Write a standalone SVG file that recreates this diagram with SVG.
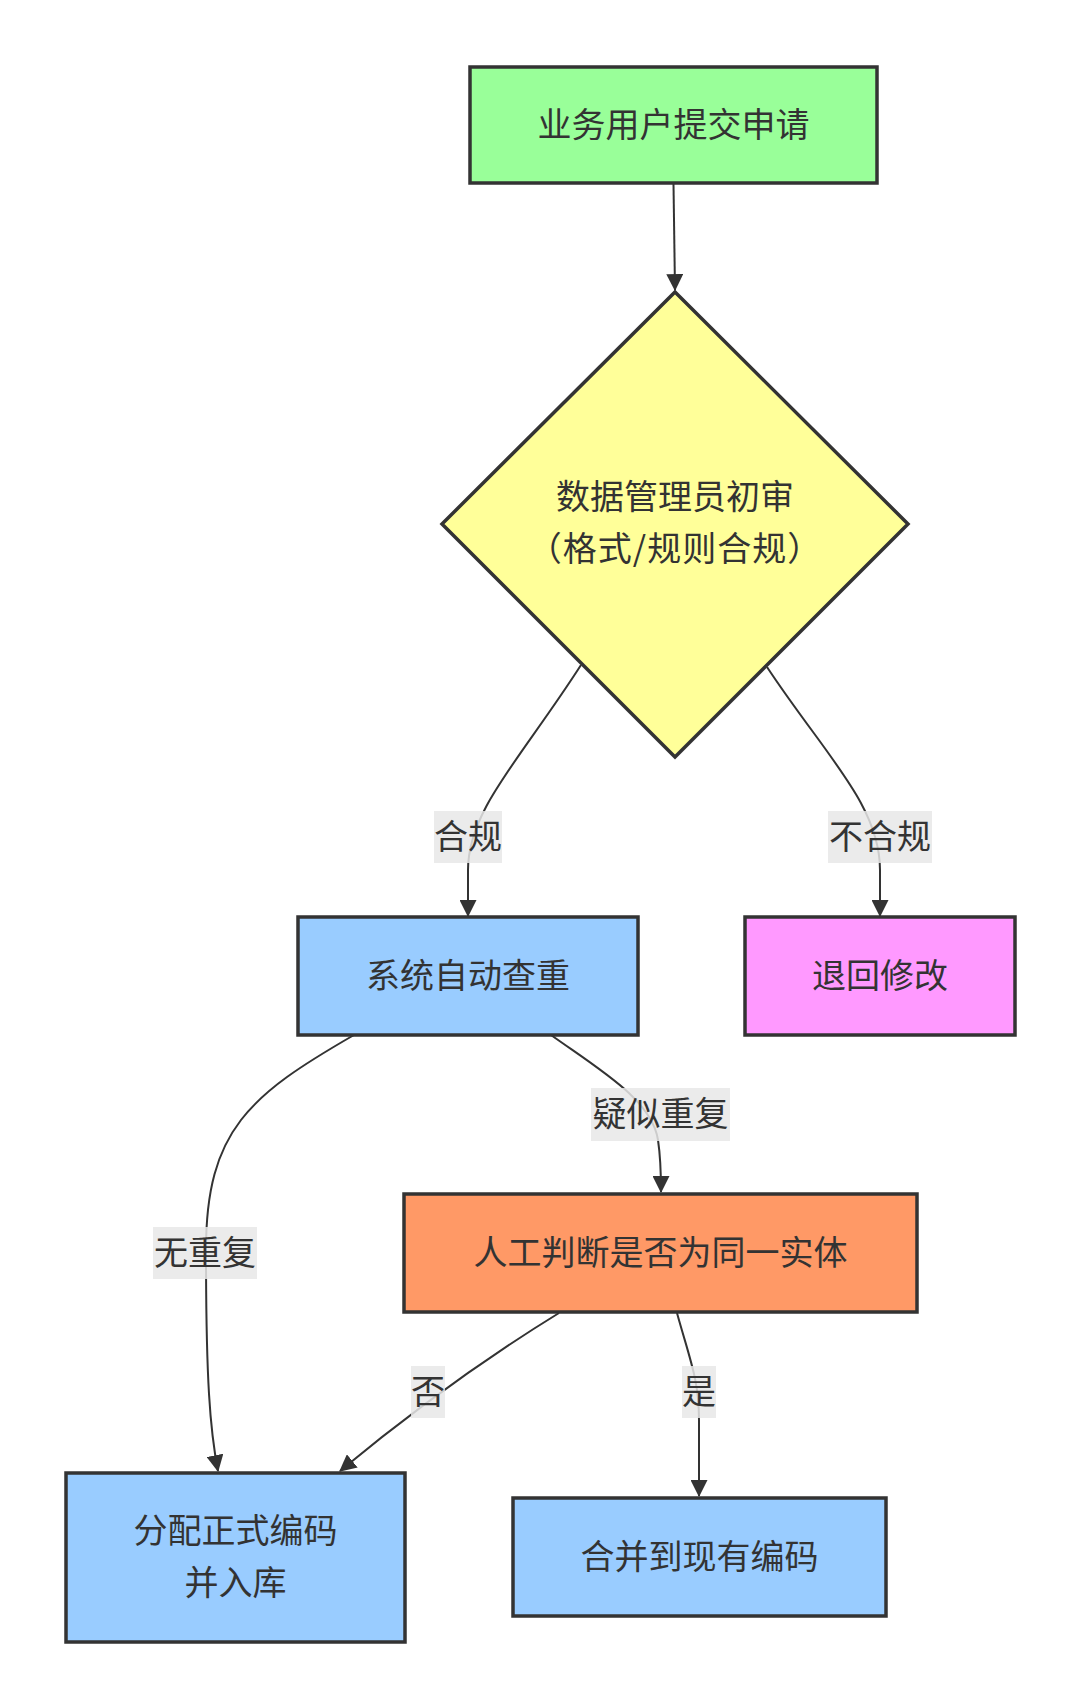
<svg xmlns="http://www.w3.org/2000/svg" width="1080" height="1708" viewBox="0 0 1080 1708">
<style>
.node{stroke:#333;stroke-width:3.5}
.t{font-family:"Noto Sans CJK SC","Noto Sans",sans-serif;font-size:34px;fill:#333;text-anchor:middle;dominant-baseline:central}
.e{fill:none;stroke:#333;stroke-width:2}
.lb{fill:#e8e8e8;opacity:0.85}
</style>
<defs>
<marker id="arr" markerUnits="userSpaceOnUse" markerWidth="17" markerHeight="17" viewBox="0 0 16 16" refX="15" refY="8" orient="auto">
<path d="M0,0 L16,8 L0,16 z" fill="#333"/>
</marker>
</defs>
<rect width="1080" height="1708" fill="#fff"/>
<g id="connectors">
<path class="e" d="M673.5,184 L675,290" marker-end="url(#arr)"/>
<path class="e" d="M581,665 C520,760 468,810 468,870 L468,916" marker-end="url(#arr)"/>
<path class="e" d="M767,667 C825,755 880,805 880,870 L880,916" marker-end="url(#arr)"/>
<path class="e" d="M354,1035 C250,1095 206,1130 206,1250 C206,1380 210,1430 218,1471" marker-end="url(#arr)"/>
<path class="e" d="M551,1035 C600,1070 652,1100 658,1140 C661,1160 661,1175 661,1192" marker-end="url(#arr)"/>
<path class="e" d="M559,1313 Q450,1380 340,1471" marker-end="url(#arr)"/>
<path class="e" d="M677,1313 C690,1360 699,1380 699,1420 L699,1496" marker-end="url(#arr)"/>
</g>
<g id="edge-labels">
<rect class="lb" x="434" y="811" width="68" height="52"/><text class="t" x="468" y="834">合规</text>
<rect class="lb" x="828" y="811" width="104" height="52"/><text class="t" x="880" y="834">不合规</text>
<rect class="lb" x="591" y="1088" width="139" height="53"/><text class="t" x="660.5" y="1111">疑似重复</text>
<rect class="lb" x="153" y="1227" width="104" height="52"/><text class="t" x="205" y="1250">无重复</text>
<rect class="lb" x="411" y="1366" width="34" height="52"/><text class="t" x="428" y="1389">否</text>
<rect class="lb" x="682" y="1366" width="34" height="52"/><text class="t" x="699" y="1389">是</text>
</g>
<g id="n1"><rect class="node" x="470" y="67" width="407" height="116" fill="#99ff99"/><text class="t" x="673.5" y="122">业务用户提交申请</text></g>
<g id="n2"><polygon class="node" points="675,292 908,524 675,757 442,524" fill="#ffff99"/><text class="t" x="675" y="494">数据管理员初审</text><text class="t" x="675" y="546" letter-spacing="1">（格式/规则合规）</text></g>
<g id="n3"><rect class="node" x="298" y="917" width="340" height="118" fill="#99ccff"/><text class="t" x="468" y="973">系统自动查重</text></g>
<g id="n4"><rect class="node" x="745" y="917" width="270" height="118" fill="#ff99ff"/><text class="t" x="880" y="973">退回修改</text></g>
<g id="n5"><rect class="node" x="404" y="1194" width="513" height="118" fill="#ff9966"/><text class="t" x="660.5" y="1250">人工判断是否为同一实体</text></g>
<g id="n6"><rect class="node" x="66" y="1473" width="339" height="169" fill="#99ccff"/><text class="t" x="235.5" y="1528">分配正式编码</text><text class="t" x="235.5" y="1580">并入库</text></g>
<g id="n7"><rect class="node" x="513" y="1498" width="373" height="118" fill="#99ccff"/><text class="t" x="699.5" y="1554">合并到现有编码</text></g>
</svg>
